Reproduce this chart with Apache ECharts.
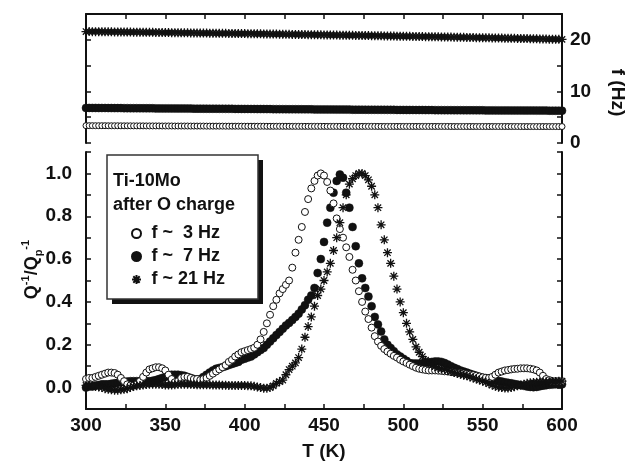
<!DOCTYPE html>
<html>
<head>
<meta charset="utf-8">
<title>Ti-10Mo internal friction</title>
<script src="https://cdn.jsdelivr.net/npm/echarts@6/dist/echarts.min.js"></script>
<style>
  html, body { margin: 0; padding: 0; background: #ffffff; }
  #chart { width: 627px; height: 461px; }
</style>
</head>
<body>
<div id="chart"></div>
<script>
// temperature grid (K), shared by all series
const temps = [
  300, 302, 304, 306, 308, 310, 312, 314, 316, 318,
  320, 322, 324, 326, 328, 330, 332, 334, 336, 338,
  340, 342, 344, 346, 348, 350, 352, 354, 356, 358,
  360, 362, 364, 366, 368, 370, 372, 374, 376, 378,
  380, 382, 384, 386, 388, 390, 392, 394, 396, 398,
  400, 402, 404, 406, 408, 410, 412, 414, 416, 418,
  420, 422, 424, 426, 428, 430, 432, 434, 436, 438,
  440, 442, 444, 446, 448, 450, 452, 454, 456, 458,
  460, 462, 464, 466, 468, 470, 472, 474, 476, 478,
  480, 482, 484, 486, 488, 490, 492, 494, 496, 498,
  500, 502, 504, 506, 508, 510, 512, 514, 516, 518,
  520, 522, 524, 526, 528, 530, 532, 534, 536, 538,
  540, 542, 544, 546, 548, 550, 552, 554, 556, 558,
  560, 562, 564, 566, 568, 570, 572, 574, 576, 578,
  580, 582, 584, 586, 588, 590, 592, 594, 596, 598,
  600
];

// normalised damping Q^-1/Qp^-1
const q3Hz = [
  0.040, 0.045, 0.045, 0.050, 0.055, 0.060, 0.065, 0.070, 0.070, 0.068,
  0.060, 0.045, 0.030, 0.015, 0.010, 0.010, 0.015, 0.030, 0.050, 0.070,
  0.085, 0.090, 0.095, 0.095, 0.090, 0.080, 0.060, 0.040, 0.025, 0.030,
  0.045, 0.050, 0.050, 0.045, 0.040, 0.040, 0.035, 0.040, 0.045, 0.055,
  0.065, 0.075, 0.085, 0.095, 0.105, 0.120, 0.130, 0.145, 0.155, 0.165,
  0.170, 0.175, 0.180, 0.186, 0.200, 0.225, 0.260, 0.300, 0.340, 0.380,
  0.410, 0.440, 0.460, 0.480, 0.500, 0.560, 0.630, 0.690, 0.750, 0.820,
  0.880, 0.930, 0.965, 0.990, 1.000, 0.990, 0.960, 0.920, 0.860, 0.790,
  0.740, 0.700, 0.655, 0.610, 0.550, 0.500, 0.450, 0.400, 0.355, 0.320,
  0.280, 0.240, 0.215, 0.195, 0.180, 0.168, 0.158, 0.148, 0.140, 0.130,
  0.122, 0.115, 0.107, 0.100, 0.093, 0.088, 0.085, 0.082, 0.080, 0.080,
  0.080, 0.079, 0.078, 0.076, 0.075, 0.073, 0.071, 0.070, 0.068, 0.066,
  0.064, 0.061, 0.058, 0.055, 0.052, 0.048, 0.046, 0.045, 0.050, 0.060,
  0.070, 0.075, 0.080, 0.082, 0.085, 0.087, 0.088, 0.090, 0.090, 0.090,
  0.088, 0.085, 0.080, 0.070, 0.055, 0.040, 0.035, 0.030, 0.030, 0.030,
  0.030
];

const q7Hz = [
  0.000, 0.005, 0.005, 0.010, 0.012, 0.015, 0.015, 0.015, 0.018, 0.020,
  0.022, 0.025, 0.025, 0.028, 0.030, 0.030, 0.030, 0.030, 0.030, 0.030,
  0.030, 0.032, 0.035, 0.040, 0.045, 0.050, 0.055, 0.060, 0.060, 0.060,
  0.058, 0.055, 0.050, 0.045, 0.040, 0.037, 0.040, 0.050, 0.060, 0.070,
  0.080, 0.088, 0.092, 0.095, 0.100, 0.105, 0.110, 0.115, 0.120, 0.130,
  0.135, 0.140, 0.145, 0.155, 0.165, 0.175, 0.185, 0.200, 0.215, 0.230,
  0.245, 0.260, 0.275, 0.290, 0.302, 0.315, 0.330, 0.345, 0.365, 0.385,
  0.410, 0.430, 0.465, 0.535, 0.600, 0.680, 0.770, 0.840, 0.910, 0.965,
  0.995, 0.980, 0.910, 0.840, 0.750, 0.660, 0.580, 0.510, 0.465, 0.425,
  0.380, 0.330, 0.295, 0.262, 0.225, 0.200, 0.185, 0.170, 0.155, 0.145,
  0.135, 0.125, 0.115, 0.113, 0.112, 0.112, 0.113, 0.115, 0.118, 0.120,
  0.122, 0.122, 0.120, 0.115, 0.108, 0.100, 0.093, 0.087, 0.080, 0.075,
  0.070, 0.065, 0.060, 0.055, 0.050, 0.046, 0.043, 0.040, 0.037, 0.034,
  0.031, 0.028, 0.025, 0.022, 0.020, 0.017, 0.014, 0.011, 0.008, 0.005,
  0.003, 0.002, 0.003, 0.006, 0.009, 0.011, 0.013, 0.014, 0.015, 0.015,
  0.015
];

const q21Hz = [
  0.010, 0.010, 0.008, 0.005, 0.003, 0.000, -0.005, -0.008, -0.010, -0.012,
  -0.012, -0.010, -0.008, -0.005, 0.000, 0.005, 0.008, 0.010, 0.012, 0.014,
  0.015, 0.016, 0.016, 0.015, 0.014, 0.012, 0.012, 0.012, 0.013, 0.015,
  0.016, 0.016, 0.015, 0.015, 0.014, 0.013, 0.013, 0.013, 0.013, 0.013,
  0.012, 0.012, 0.012, 0.011, 0.011, 0.010, 0.010, 0.010, 0.010, 0.010,
  0.010, 0.009, 0.008, 0.006, 0.003, 0.000, -0.003, -0.003, 0.000, 0.008,
  0.020, 0.028, 0.035, 0.060, 0.084, 0.100, 0.115, 0.140, 0.180, 0.235,
  0.285, 0.330, 0.380, 0.430, 0.460, 0.500, 0.540, 0.580, 0.640, 0.700,
  0.770, 0.840, 0.900, 0.950, 0.975, 0.990, 1.000, 1.000, 0.990, 0.970,
  0.940, 0.900, 0.840, 0.760, 0.690, 0.630, 0.580, 0.520, 0.460, 0.400,
  0.350, 0.300, 0.260, 0.225, 0.190, 0.165, 0.145, 0.128, 0.115, 0.105,
  0.098, 0.092, 0.088, 0.085, 0.080, 0.075, 0.070, 0.066, 0.062, 0.058,
  0.055, 0.050, 0.045, 0.040, 0.035, 0.030, 0.025, 0.018, 0.012, 0.006,
  0.002, 0.000, -0.002, -0.002, 0.000, 0.004, 0.008, 0.012, 0.016, 0.020,
  0.022, 0.024, 0.025, 0.026, 0.026, 0.027, 0.027, 0.028, 0.028, 0.029,
  0.030
];

// measured frequency (Hz), top panel
const f3Hz = [
  3.36, 3.36, 3.36, 3.35, 3.35, 3.35, 3.35, 3.34, 3.34, 3.34,
  3.34, 3.33, 3.33, 3.33, 3.33, 3.32, 3.32, 3.32, 3.32, 3.31,
  3.31, 3.31, 3.31, 3.31, 3.30, 3.30, 3.30, 3.30, 3.29, 3.29,
  3.29, 3.29, 3.29, 3.28, 3.28, 3.28, 3.28, 3.28, 3.27, 3.27,
  3.27, 3.27, 3.27, 3.27, 3.26, 3.26, 3.26, 3.26, 3.26, 3.26,
  3.25, 3.25, 3.25, 3.25, 3.25, 3.25, 3.25, 3.24, 3.24, 3.24,
  3.24, 3.24, 3.24, 3.24, 3.24, 3.23, 3.23, 3.23, 3.23, 3.23,
  3.23, 3.23, 3.23, 3.23, 3.23, 3.23, 3.22, 3.22, 3.22, 3.22,
  3.22, 3.22, 3.22, 3.22, 3.22, 3.22, 3.22, 3.22, 3.22, 3.22,
  3.22, 3.22, 3.21, 3.21, 3.21, 3.21, 3.21, 3.21, 3.21, 3.21,
  3.21, 3.21, 3.21, 3.21, 3.21, 3.21, 3.21, 3.21, 3.21, 3.21,
  3.21, 3.21, 3.21, 3.21, 3.21, 3.20, 3.20, 3.20, 3.20, 3.20,
  3.20, 3.20, 3.20, 3.20, 3.20, 3.20, 3.20, 3.20, 3.20, 3.20,
  3.20, 3.20, 3.20, 3.20, 3.20, 3.20, 3.20, 3.19, 3.19, 3.19,
  3.19, 3.19, 3.19, 3.19, 3.19, 3.19, 3.19, 3.19, 3.19, 3.19,
  3.19
];

const f7Hz = [
  6.80, 6.80, 6.79, 6.79, 6.78, 6.78, 6.78, 6.77, 6.77, 6.76,
  6.76, 6.76, 6.75, 6.75, 6.74, 6.74, 6.74, 6.73, 6.73, 6.72,
  6.72, 6.72, 6.71, 6.71, 6.70, 6.70, 6.70, 6.69, 6.69, 6.68,
  6.68, 6.68, 6.67, 6.67, 6.66, 6.66, 6.66, 6.65, 6.65, 6.64,
  6.64, 6.64, 6.63, 6.63, 6.62, 6.62, 6.62, 6.61, 6.61, 6.60,
  6.60, 6.60, 6.59, 6.59, 6.58, 6.58, 6.58, 6.57, 6.57, 6.56,
  6.56, 6.56, 6.55, 6.55, 6.54, 6.54, 6.54, 6.53, 6.53, 6.52,
  6.52, 6.52, 6.51, 6.51, 6.50, 6.50, 6.50, 6.49, 6.49, 6.48,
  6.48, 6.48, 6.47, 6.47, 6.46, 6.46, 6.46, 6.45, 6.45, 6.44,
  6.44, 6.44, 6.43, 6.43, 6.43, 6.42, 6.42, 6.42, 6.41, 6.41,
  6.41, 6.40, 6.40, 6.40, 6.39, 6.39, 6.39, 6.38, 6.38, 6.38,
  6.37, 6.37, 6.37, 6.36, 6.36, 6.36, 6.35, 6.35, 6.35, 6.34,
  6.34, 6.34, 6.34, 6.33, 6.33, 6.33, 6.32, 6.32, 6.32, 6.32,
  6.31, 6.31, 6.31, 6.31, 6.30, 6.30, 6.30, 6.30, 6.29, 6.29,
  6.29, 6.29, 6.28, 6.28, 6.28, 6.28, 6.27, 6.27, 6.27, 6.27,
  6.26
];

const f21Hz = [
  21.60, 21.59, 21.58, 21.58, 21.57, 21.56, 21.55, 21.55, 21.54, 21.53,
  21.52, 21.51, 21.51, 21.50, 21.49, 21.48, 21.48, 21.47, 21.46, 21.45,
  21.44, 21.44, 21.43, 21.42, 21.41, 21.40, 21.40, 21.39, 21.38, 21.37,
  21.36, 21.36, 21.35, 21.34, 21.33, 21.32, 21.31, 21.31, 21.30, 21.29,
  21.28, 21.27, 21.26, 21.26, 21.25, 21.24, 21.23, 21.22, 21.21, 21.20,
  21.20, 21.19, 21.18, 21.17, 21.16, 21.15, 21.14, 21.13, 21.12, 21.11,
  21.10, 21.09, 21.08, 21.07, 21.06, 21.05, 21.04, 21.03, 21.02, 21.01,
  21.00, 20.99, 20.98, 20.97, 20.96, 20.95, 20.94, 20.93, 20.92, 20.91,
  20.90, 20.89, 20.88, 20.87, 20.86, 20.85, 20.84, 20.83, 20.82, 20.81,
  20.80, 20.79, 20.78, 20.77, 20.76, 20.75, 20.73, 20.72, 20.71, 20.70,
  20.69, 20.68, 20.67, 20.66, 20.65, 20.63, 20.62, 20.61, 20.60, 20.59,
  20.58, 20.57, 20.55, 20.54, 20.53, 20.52, 20.51, 20.50, 20.48, 20.47,
  20.46, 20.45, 20.44, 20.42, 20.41, 20.40, 20.39, 20.38, 20.36, 20.35,
  20.34, 20.33, 20.31, 20.30, 20.29, 20.28, 20.26, 20.25, 20.24, 20.23,
  20.21, 20.20, 20.19, 20.17, 20.16, 20.15, 20.13, 20.12, 20.11, 20.10,
  20.08
];

const legendNames = ['f ~  3 Hz', 'f ~  7 Hz', 'f ~ 21 Hz'];
const boxTitle = ['Ti-10Mo', 'after O charge'];

const FONT = '"Liberation Sans", Arial, Helvetica, sans-serif';
const INK = '#111111';
const STAR = 'path://M5,0L5,10M0,5L10,5M1.46,1.46L8.54,8.54M1.46,8.54L8.54,1.46';

const pairs = vals => temps.map((t, i) => [t, vals[i]]);

const openStyle = { color: '#ffffff', borderColor: INK, borderWidth: 1, opacity: 1 };
const fillStyle = { color: INK, borderColor: INK, borderWidth: 0.5, opacity: 1 };
const starStyle = { color: 'rgba(0,0,0,0)', borderColor: INK, borderWidth: 1.3, opacity: 1 };

const axisLine = { show: true, onZero: false, lineStyle: { color: INK, width: 2 } };
const tickIn = { show: true, inside: true, length: 5, lineStyle: { color: INK, width: 1.5 } };
const labelFont = { fontFamily: FONT, fontWeight: 'bold', fontSize: 19, color: INK };

function scatter(name, symbol, size, style, vals, xi, yi) {
    return {
        name: name,
        type: 'scatter',
        xAxisIndex: xi,
        yAxisIndex: yi,
        symbol: symbol,
        symbolSize: size,
        itemStyle: style,
        emphasis: { disabled: true },
        data: pairs(vals),
    };
}

const chart = echarts.init(document.getElementById('chart'), null, { renderer: 'canvas' });

chart.setOption({
    backgroundColor: '#ffffff',
    animation: false,
    grid: [
        { left: 86, width: 476, top: 14, height: 129, outerBoundsMode: 'none', containLabel: false },
        { left: 86, width: 476, top: 152, height: 257, outerBoundsMode: 'none', containLabel: false },
    ],
    xAxis: [
        {
            gridIndex: 0, type: 'value', position: 'top',
            min: 300, max: 600, interval: 25,
            axisLine: axisLine, axisTick: tickIn,
            axisLabel: { show: false }, splitLine: { show: false },
        },
        {
            gridIndex: 1, type: 'value', position: 'bottom',
            min: 300, max: 600, interval: 25,
            axisLine: axisLine, axisTick: tickIn,
            axisLabel: Object.assign({ margin: 7, formatter: v => (v % 50 === 0 ? String(v) : '') }, labelFont),
            splitLine: { show: false },
            name: 'T (K)', nameLocation: 'middle', nameGap: 33,
            nameTextStyle: labelFont,
        },
    ],
    yAxis: [
        {
            gridIndex: 0, type: 'value', position: 'left',
            min: 0, max: 25, interval: 5,
            axisLine: axisLine, axisTick: tickIn,
            axisLabel: { show: false }, splitLine: { show: false },
        },
        {
            gridIndex: 0, type: 'value', position: 'right',
            min: 0, max: 25, interval: 5,
            axisLine: axisLine, axisTick: tickIn,
            axisLabel: Object.assign({ margin: 8, formatter: v => (v % 10 === 0 ? String(v) : '') }, labelFont),
            splitLine: { show: false },
            name: 'f (Hz)', nameLocation: 'middle', nameRotate: -90, nameGap: 46,
            nameMoveOverlap: false,
            nameTextStyle: Object.assign({ padding: [0, 0, 0, 28] }, labelFont),
        },
        {
            gridIndex: 1, type: 'value', position: 'left',
            min: -0.1, max: 1.1, interval: 0.1,
            axisLine: axisLine, axisTick: tickIn,
            axisLabel: Object.assign({
                margin: 14,
                formatter: v => {
                    const r = Math.round(v * 10);
                    return (r >= 0 && r <= 10 && r % 2 === 0) ? (r / 10).toFixed(1) : '';
                }
            }, labelFont),
            splitLine: { show: false },
            name: '{a|Q}{s|-1}{a|/Q}{p|p}{s|-1}',
            nameLocation: 'middle', nameRotate: 90, nameGap: 42,
            nameMoveOverlap: false,
            nameTextStyle: {
                fontFamily: FONT, fontWeight: 'bold', fontSize: 18, color: INK,
                padding: [0, 0, 0, 22],
                rich: {
                    a: { fontFamily: FONT, fontWeight: 'bold', fontSize: 18, color: INK, lineHeight: 24 },
                    s: { fontFamily: FONT, fontWeight: 'bold', fontSize: 11, color: INK, lineHeight: 12, verticalAlign: 'top' },
                    p: { fontFamily: FONT, fontWeight: 'bold', fontSize: 11, color: INK, lineHeight: 12, verticalAlign: 'bottom' },
                },
            },
        },
        {
            gridIndex: 1, type: 'value', position: 'right',
            min: -0.1, max: 1.1, interval: 0.1,
            axisLine: axisLine, axisTick: tickIn,
            axisLabel: { show: false }, splitLine: { show: false },
        },
    ],
    legend: {
        data: legendNames,
        orient: 'vertical',
        left: 126, top: 219,
        itemWidth: 20, itemHeight: 9, itemGap: 4,
        selectedMode: false,
        textStyle: { fontFamily: FONT, fontWeight: 'bold', fontSize: 18, color: INK, lineHeight: 19 },
    },
    graphic: [
        { type: 'rect', z: 3, shape: { x: 112, y: 160, width: 151, height: 144 }, style: { fill: INK } },
        { type: 'rect', z: 3, shape: { x: 107, y: 155, width: 151, height: 144 }, style: { fill: '#ffffff', stroke: '#333333', lineWidth: 1.5 } },
        { type: 'text', z: 3, x: 113, y: 181, style: { text: boxTitle[0], fontFamily: FONT, fontWeight: 'bold', fontSize: 18, fill: INK, verticalAlign: 'middle' } },
        { type: 'text', z: 3, x: 113, y: 205, style: { text: boxTitle[1], fontFamily: FONT, fontWeight: 'bold', fontSize: 18, fill: INK, verticalAlign: 'middle' } },
    ],
    series: [
        // top panel: frequency
        scatter('top3', 'circle', 6, openStyle, f3Hz, 0, 1),
        scatter('top7', 'circle', 8, fillStyle, f7Hz, 0, 1),
        scatter('top21', STAR, 9, starStyle, f21Hz, 0, 1),
        // bottom panel: damping
        scatter(legendNames[1], 'circle', 8, fillStyle, q7Hz, 1, 2),
        scatter(legendNames[0], 'circle', 7, openStyle, q3Hz, 1, 2),
        scatter(legendNames[2], STAR, 9, starStyle, q21Hz, 1, 2),
    ],
});
</script>
</body>
</html>
